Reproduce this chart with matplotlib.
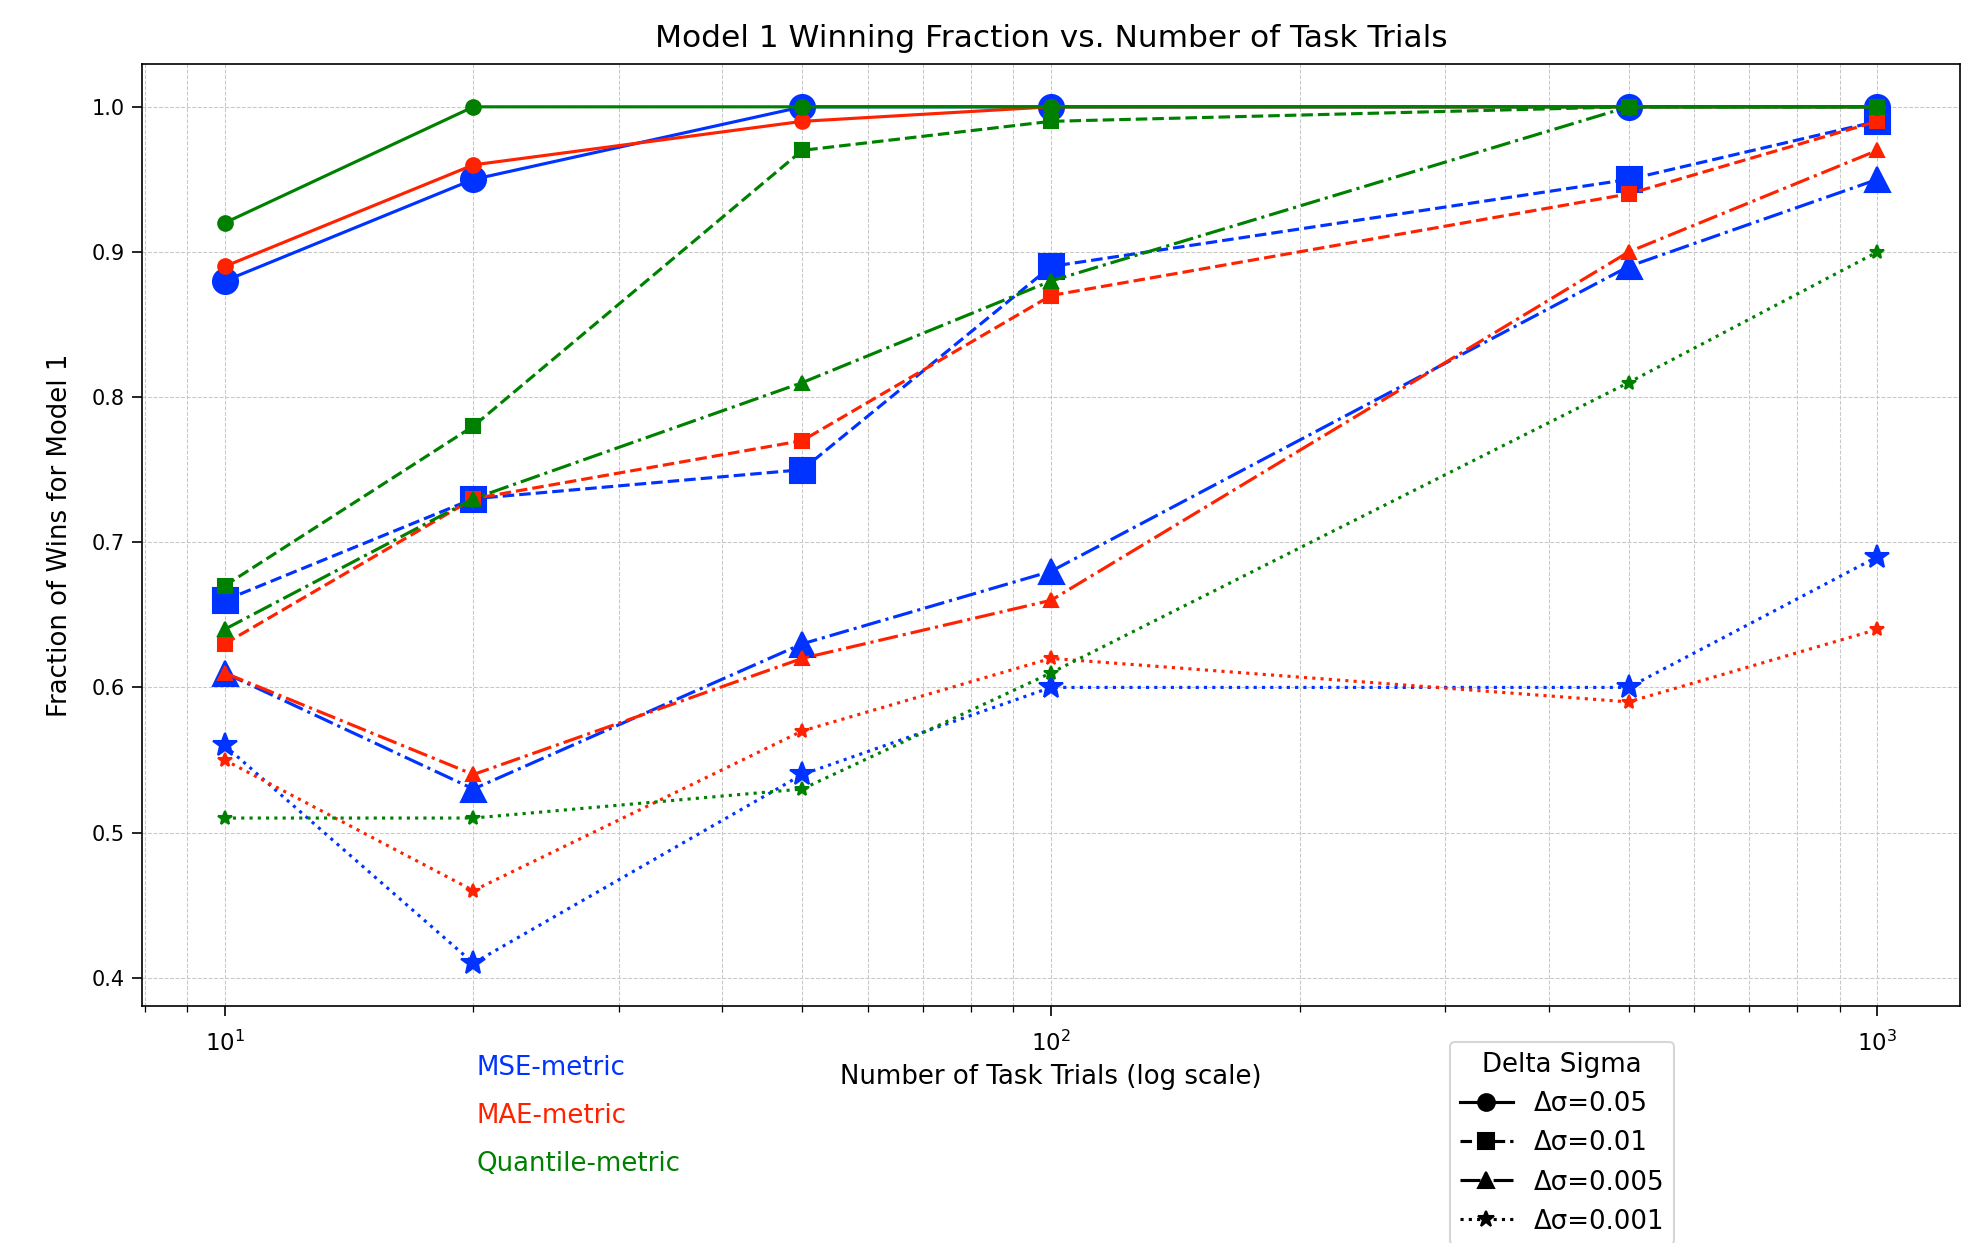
import matplotlib
matplotlib.use("Agg")
import matplotlib.pyplot as plt
from matplotlib.lines import Line2D

# Number of task trials
trials = [10, 20, 50, 100, 500, 1000]

delta_sigmas = ["0.05", "0.01", "0.005", "0.001"]

# Fraction of wins for Model 1, per metric and delta sigma
mse_005 = [0.88, 0.95, 1.00, 1.00, 1.00, 1.00]
mse_001 = [0.66, 0.73, 0.75, 0.89, 0.95, 0.99]
mse_0005 = [0.61, 0.53, 0.63, 0.68, 0.89, 0.95]
mse_0001 = [0.56, 0.41, 0.54, 0.60, 0.60, 0.69]

mae_005 = [0.89, 0.96, 0.99, 1.00, 1.00, 1.00]
mae_001 = [0.63, 0.73, 0.77, 0.87, 0.94, 0.99]
mae_0005 = [0.61, 0.54, 0.62, 0.66, 0.90, 0.97]
mae_0001 = [0.55, 0.46, 0.57, 0.62, 0.59, 0.64]

q_005 = [0.92, 1.00, 1.00, 1.00, 1.00, 1.00]
q_001 = [0.67, 0.78, 0.97, 0.99, 1.00, 1.00]
q_0005 = [0.64, 0.73, 0.81, 0.88, 1.00, 1.00]
q_0001 = [0.51, 0.51, 0.53, 0.61, 0.81, 0.90]

metric_names = ["MSE-metric", "MAE-metric", "Quantile-metric"]
metric_colors = ["#0033ff", "#ff2200", "#008000"]
metric_msize = [12, 7, 7]
metric_data = [
    [mse_005, mse_001, mse_0005, mse_0001],
    [mae_005, mae_001, mae_0005, mae_0001],
    [q_005, q_001, q_0005, q_0001],
]

linestyles = ["-", "--", "-.", ":"]
markers = ["o", "s", "^", "*"]

fig = plt.figure(figsize=(1968 / 150, 1243 / 150), dpi=150)
ax = fig.add_axes([142 / 1968, 1 - 1006 / 1243, (1960 - 142) / 1968, (1006 - 64) / 1243])

for color, ms, series in zip(metric_colors, metric_msize, metric_data):
    for vals, ls, mk in zip(series, linestyles, markers):
        ax.plot(trials, vals, linestyle=ls, marker=mk, color=color,
                markersize=ms, linewidth=1.5)

ax.set_xscale("log")
ax.set_title("Model 1 Winning Fraction vs. Number of Task Trials", fontsize=15, pad=8)
ax.set_xlabel("Number of Task Trials (log scale)", fontsize=12.5, labelpad=4)
ax.set_ylabel("Fraction of Wins for Model 1", fontsize=12.5, labelpad=9)
ax.tick_params(axis="both", which="major", length=4.8, labelsize=10)
ax.tick_params(axis="both", which="minor", length=2.9)
ax.tick_params(axis="x", which="both", pad=7, labelsize=11)
ax.grid(True, which="both", linestyle="--", linewidth=0.5, color="#c8c8c8")

# Colour key for the metrics
for i, (name, color) in enumerate(zip(metric_names, metric_colors)):
    fig.text(477 / 1968, 1 - (1068 + i * 48) / 1243, name, color=color,
             fontsize=12.5, va="center", ha="left")

# Line style / marker key for delta sigma
handles = [Line2D([0], [0], color="black", linestyle=ls, marker=mk, markersize=8)
           for ls, mk in zip(linestyles, markers)]
labels = [f"Δσ={d}" for d in delta_sigmas]
fig.legend(handles, labels, title="Delta Sigma", loc="upper left",
           bbox_to_anchor=(1437 / 1968, 1 - 1029 / 1243), fontsize=12.5,
           title_fontsize=12.5, labelspacing=0.5)

fig.savefig("out.png", dpi=150)
